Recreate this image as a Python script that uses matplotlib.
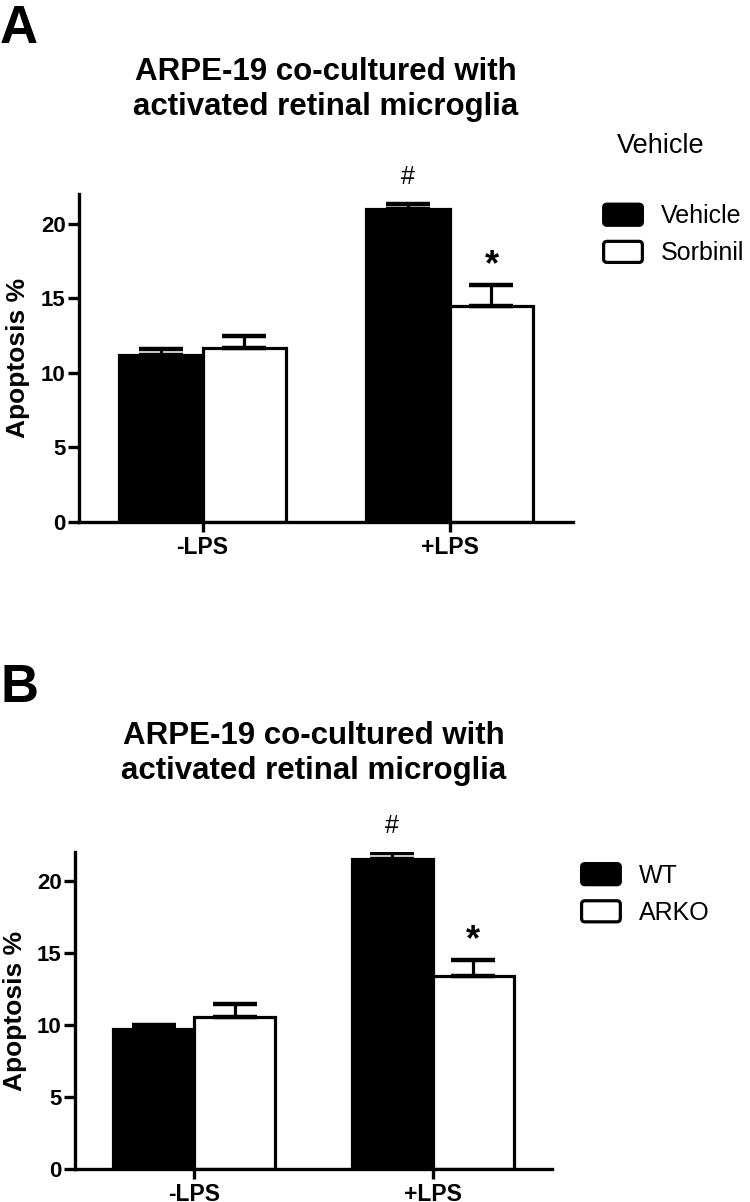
import numpy as np
import matplotlib
matplotlib.use('Agg')
import matplotlib.pyplot as plt
from matplotlib.patches import Patch, FancyBboxPatch
from matplotlib.legend_handler import HandlerPatch

plt.rcParams['font.family'] = ['Liberation Sans', 'DejaVu Sans']

# data
groups = ['-LPS', '+LPS']
title = 'ARPE-19 co-cultured with\nactivated retinal microglia'

a_names = ['Vehicle', 'Sorbinil']
a_vehicle = [11.2, 21.0]
a_vehicle_err = [0.38, 0.32]
a_sorbinil = [11.65, 14.5]
a_sorbinil_err = [0.82, 1.35]

b_names = ['WT', 'ARKO']
b_wt = [9.7, 21.5]
b_wt_err = [0.33, 0.42]
b_arko = [10.57, 13.42]
b_arko_err = [0.88, 1.08]

LW = 2.3


def rounded_box(legend, orig_handle, xdescent, ydescent, width, height, fontsize):
    return FancyBboxPatch((-xdescent, -ydescent), width, height,
                          boxstyle='round,pad=0,rounding_size=2.5')


def panel(ax, names, v1, e1, v2, e2, title_pad, leg_y, legend_title=None):
    x = np.arange(len(groups))
    w = 0.34
    ax.bar(x - w/2, v1, w, color='black', edgecolor='black', linewidth=LW, zorder=2)
    ax.bar(x + w/2, v2, w, color='white', edgecolor='black', linewidth=LW, zorder=2)
    for xs, vals, errs in [(x - w/2, v1, e1), (x + w/2, v2, e2)]:
        ax.errorbar(xs, vals, yerr=[np.zeros(len(errs)), errs], fmt='none',
                    ecolor='black', elinewidth=LW, capsize=16, capthick=3.2, zorder=3)

    # significance marks over the +LPS bars
    ax.annotate('#', (x[1] - w/2, v1[1] + e1[1]), xytext=(0, 14.5),
                textcoords='offset points', ha='center', va='baseline',
                fontsize=18, annotation_clip=False)
    ax.annotate('*', (x[1] + w/2, v2[1] + e2[1]), xytext=(0, 7.5),
                textcoords='offset points', ha='center', va='baseline',
                fontsize=26, fontweight='bold', annotation_clip=False)

    ax.set_xlim(-0.5, 1.5)
    ax.set_ylim(0, 22)
    ax.set_yticks([0, 5, 10, 15, 20])
    ax.set_xticks(x)
    ax.set_xticklabels(groups)
    for s in ['top', 'right']:
        ax.spines[s].set_visible(False)
    for s in ['left', 'bottom']:
        ax.spines[s].set_linewidth(2.4)
    ax.tick_params(axis='y', direction='out', length=8, width=2.4, pad=1.5, labelsize=16)
    ax.tick_params(axis='x', direction='out', length=7.5, width=2.4, pad=2.5, labelsize=16.5)
    for lab in ax.get_xticklabels() + ax.get_yticklabels():
        lab.set_fontweight('bold')

    ax.set_ylabel('Apoptosis %', fontsize=19, fontweight='bold')
    ax.yaxis.set_label_coords(-0.1, 0.5)
    ax.set_title(title, fontsize=22.5, fontweight='bold', pad=title_pad)

    handles = [Patch(facecolor='black', edgecolor='black', linewidth=LW),
               Patch(facecolor='white', edgecolor='black', linewidth=LW)]
    ax.legend(handles, names, loc='upper left', bbox_to_anchor=(1.062, leg_y),
              frameon=False, fontsize=18, borderpad=0, borderaxespad=0,
              handlelength=1.55, handleheight=0.92, handletextpad=0.75,
              labelspacing=0.52,
              handler_map={Patch: HandlerPatch(patch_func=rounded_box)})
    if legend_title:
        ax.annotate(legend_title, xy=(1, 1), xycoords='axes fraction',
                    xytext=(31.5, 29), textcoords='offset points',
                    ha='left', va='baseline', fontsize=19.5)


fig = plt.figure(figsize=(7.5, 12.02), dpi=100)
W, H = 750, 1202
ax1 = fig.add_axes([79 / W, 1 - 521.7 / H, 494 / W, 328 / H])
ax2 = fig.add_axes([75 / W, 1 - 1169 / H, 477 / W, 316.8 / H])

panel(ax1, a_names, a_vehicle, a_vehicle_err, a_sorbinil, a_sorbinil_err,
      title_pad=57, leg_y=0.968, legend_title='Vehicle')
panel(ax2, b_names, b_wt, b_wt_err, b_arko, b_arko_err,
      title_pad=53, leg_y=0.964)

fig.text(0.0, 1 - 43 / H, 'A', fontsize=38, fontweight='bold', ha='left', va='baseline')
fig.text(0.0, 1 - 702 / H, 'B', fontsize=38, fontweight='bold', ha='left', va='baseline')

fig.savefig('out.png', dpi=100)
